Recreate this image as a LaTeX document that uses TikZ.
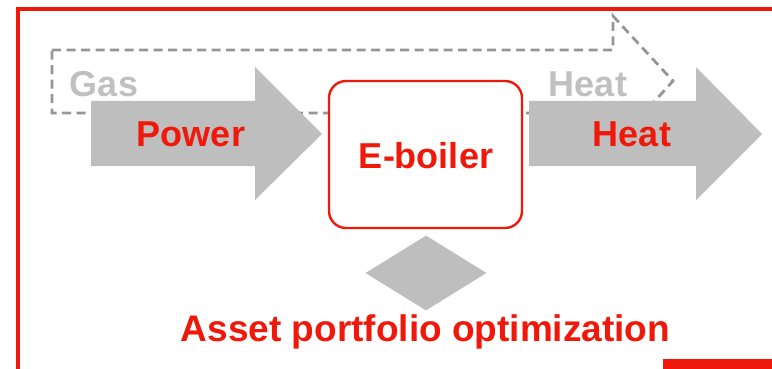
\documentclass[tikz,border=0pt]{standalone}
\usepackage{fontspec}
\setmainfont{Liberation Sans}
\usetikzlibrary{shapes.geometric}
\definecolor{fr}{RGB}{240,24,10}
\definecolor{afill}{RGB}{190,190,190}
\definecolor{dashc}{RGB}{150,150,150}
\definecolor{ltxt}{RGB}{192,192,192}
\tikzset{
  lbl/.style={font=\bfseries\fontsize{36}{40}\selectfont, inner sep=0pt},
  redlbl/.style={lbl, text=fr},
  graylbl/.style={lbl, text=ltxt},
  blockarrow/.style={fill=afill, draw=none},
}
\begin{document}
\begin{tikzpicture}[x=1pt,y=-1pt]
\useasboundingbox (0,0) rectangle (772,369);
% frame
\draw[fr, line width=3.3pt] (18,369) -- (18,9) -- (772,9);
\fill[fr] (663,359) rectangle (772,369);
% dashed gas/heat arrow
\draw[dashc, line width=2.8pt, dash pattern=on 9pt off 5.5pt]
  (52,50) -- (613,50) -- (613,16) -- (673,81) -- (613,147) -- (613,113) -- (52,113) -- cycle;
\node[graylbl] (gas) at (104,84) {Gas};
\node[graylbl] (heatg) at (588,84) {Heat};
% power arrow
\path[blockarrow] (91,101) -- (255,101) -- (255,67) -- (322,134) -- (255,200) -- (255,166) -- (91,166) -- cycle;
% heat arrow
\path[blockarrow] (529,101) -- (696,101) -- (696,67) -- (762,134) -- (696,200) -- (696,166) -- (529,166) -- cycle;
\node[redlbl] (power) at (191,134) {Power};
\node[redlbl] (heat) at (632,134) {Heat};
% E-boiler
\node[draw=fr, fill=white, line width=2.4pt, rounded corners=17pt, minimum width=193pt, minimum height=147pt, inner sep=0pt] (boiler) at (425.5,154.5) {};
\node[redlbl] (boilertxt) at (426,156) {E-boiler};
% diamond
\node[diamond, fill=afill, minimum width=121pt, minimum height=75pt, inner sep=0pt, aspect=1.6] (dia) at (426,273) {};
\node[redlbl, font=\bfseries\fontsize{37}{40}\selectfont] (asset) at (425.5,332) {Asset portfolio optimization};
\end{tikzpicture}
\end{document}
